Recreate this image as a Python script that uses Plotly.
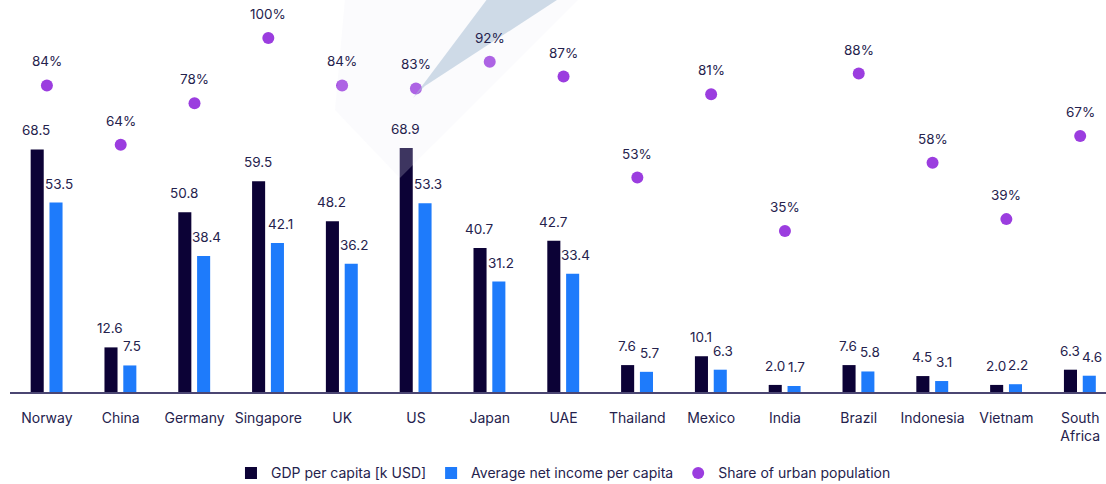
import plotly.graph_objects as go

countries = ["Norway", "China", "Germany", "Singapore", "UK", "US", "Japan", "UAE",
             "Thailand", "Mexico", "India", "Brazil", "Indonesia", "Vietnam", "South<br>Africa"]
gdp = [68.5, 12.6, 50.8, 59.5, 48.2, 68.9, 40.7, 42.7, 7.6, 10.1, 2.0, 7.6, 4.5, 2.0, 6.3]
income = [53.5, 7.5, 38.4, 42.1, 36.2, 53.3, 31.2, 33.4, 5.7, 6.3, 1.7, 5.8, 3.1, 2.2, 4.6]
urban = [84, 64, 78, 100, 84, 83, 92, 87, 53, 81, 35, 88, 58, 39, 67]

NAVY = "#0c0236"
BLUE = "#1e7bfb"
PURPLE = "#9b3ddf"
TEXT = "#25224d"
FONT = "Inter"

BAR_W = 0.177
OFF_GDP = -0.22
OFF_INC = 0.035

idx = list(range(len(countries)))

fig = go.Figure()
fig.add_trace(go.Bar(
    x=idx, y=gdp, name="GDP per capita [k USD]",
    marker=dict(color=NAVY, line=dict(width=0)),
    width=BAR_W, offset=OFF_GDP,
))
fig.add_trace(go.Bar(
    x=idx, y=income, name="Average net income per capita",
    marker=dict(color=BLUE, line=dict(width=0)),
    width=BAR_W, offset=OFF_INC,
))
fig.add_trace(go.Scatter(
    x=idx, y=urban, name="Share of urban population", yaxis="y2",
    mode="markers", marker=dict(color=PURPLE, size=12),
))

num_font = dict(size=13.5, color=TEXT, family=FONT)
annotations = []
for i in idx:
    annotations.append(dict(
        x=i + OFF_GDP + BAR_W / 2 - 0.01, y=gdp[i], xref="x", yref="y",
        text=f"{gdp[i]:.1f}", showarrow=False, yshift=19, font=num_font,
    ))
    annotations.append(dict(
        x=i + OFF_INC + BAR_W / 2 + 0.035, y=income[i], xref="x", yref="y",
        text=f"{income[i]:.1f}", showarrow=False, yshift=19, font=num_font,
    ))
    annotations.append(dict(
        x=i, y=urban[i], xref="x", yref="y2",
        text=f"{urban[i]}%", showarrow=False, yshift=24, font=num_font,
    ))


def px(x, y):
    # window pixels -> paper coords (plot area 10..1106 x 10..392)
    return f"{(x - 10) / 1096:.4f} {(392 - y) / 382:.4f}"


# light "spotlight" beam over the US point, plus its faint haze
beam = f"M {px(413, 98)} L {px(488, -2)} L {px(560, -2)} L {px(425, 86)} Z"
haze = f"M {px(400, 178)} L {px(580, -2)} L {px(345, -2)} L {px(335, 110)} Z"

fig.update_layout(
    width=1106, height=484,
    margin=dict(l=10, r=0, t=10, b=92, autoexpand=False),
    paper_bgcolor="white", plot_bgcolor="white",
    font=dict(family=FONT, size=14, color=TEXT),
    barmode="overlay",
    showlegend=True,
    legend=dict(
        orientation="h", x=0.505, xanchor="center", y=-0.213, yanchor="middle",
        font=dict(size=14, color=TEXT, family=FONT),
    ),
    xaxis=dict(
        tickmode="array", tickvals=idx, ticktext=countries,
        range=[-0.5, 14.35], showgrid=False, zeroline=False, automargin=False,
        showline=True, linecolor="#4b4672", linewidth=2,
        ticks="", ticklabelstandoff=12,
        tickfont=dict(size=14, color=TEXT, family=FONT),
    ),
    yaxis=dict(range=[0, 107.9], visible=False, showgrid=False, zeroline=False),
    yaxis2=dict(range=[-19.2, 109.4], overlaying="y", visible=False,
                showgrid=False, zeroline=False),
    annotations=annotations,
    shapes=[
        dict(type="path", path=haze, xref="paper", yref="paper",
             fillcolor="rgba(236,238,244,0.22)", line=dict(width=0), layer="above"),
        dict(type="path", path=beam, xref="paper", yref="paper",
             fillcolor="rgba(170,192,214,0.55)", line=dict(width=0), layer="above"),
    ],
)

# drop the browser's default body margin so the figure sits at the page corner
fig.write_html("out.html", config={"displayModeBar": False},
               post_script="document.body.style.margin='0';")
